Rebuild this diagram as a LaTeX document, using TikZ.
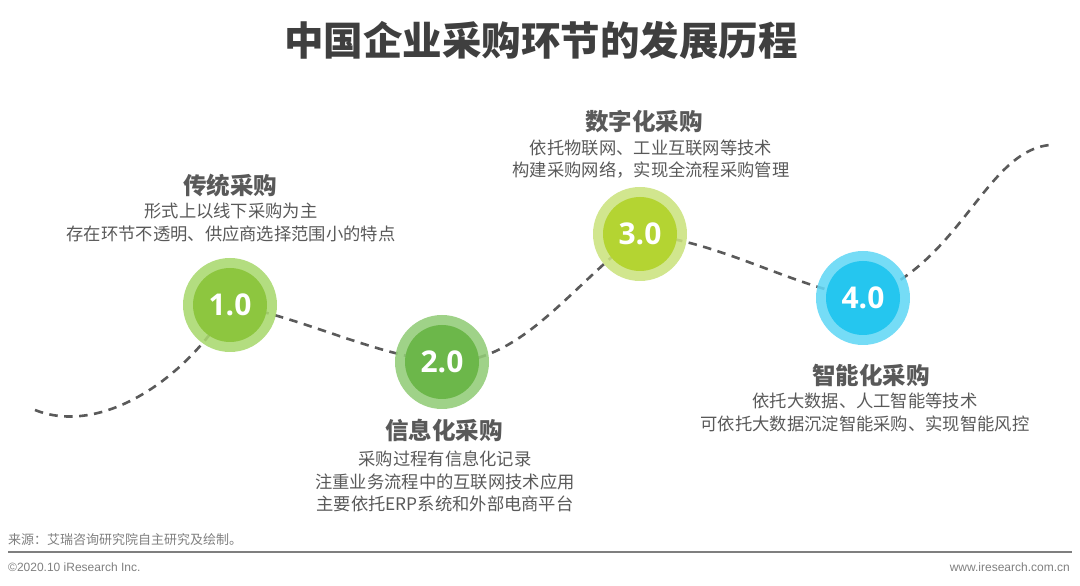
\documentclass[tikz,border=0pt]{standalone}
\usepackage{fontspec}
\setmainfont{Noto Sans CJK SC}
\newfontfamily\arialf{Liberation Sans}
\newfontfamily\numf{Open Sans}
\definecolor{txtdark}{HTML}{3F3F3F}
\definecolor{txtgray}{HTML}{595959}
\definecolor{footgray}{HTML}{7F7F7F}
\definecolor{dashgray}{HTML}{5A5A5A}
\definecolor{oA}{HTML}{A9D86E}\definecolor{iA}{HTML}{8DC63F}
\definecolor{oB}{HTML}{92CC77}\definecolor{iB}{HTML}{6CB74A}
\definecolor{oC}{HTML}{CBE27E}\definecolor{iC}{HTML}{B4D432}
\definecolor{oD}{HTML}{62D7F5}\definecolor{iD}{HTML}{25C6EF}
\tikzset{
  outerc/.style={circle, minimum size=94pt, inner sep=0pt, fill opacity=0.88},
  innerc/.style={circle, minimum size=74pt, inner sep=0pt, text=white, font=\numf\bfseries\fontsize{30}{30}\selectfont},
  dashcurve/.style={draw=dashgray, line width=2.6pt, dash pattern=on 8.5pt off 6.5pt},
  stagetitle/.style={font=\bfseries\fontsize{23.5}{26}\selectfont, text=txtgray, inner sep=0pt},
  stagebody/.style={font=\fontsize{17.3}{22.5}\selectfont, text=txtgray, align=center, inner sep=0pt},
}
\begin{document}
\begin{tikzpicture}[x=1pt,y=1pt]
\useasboundingbox (0,0) rectangle (1080,586);
% title
\node[font=\bfseries\fontsize{39.5}{42}\selectfont, text=txtdark, inner sep=0pt] (title) at (541,546) {中国企业采购环节的发展历程};
% circle positions
\coordinate (p1) at (230,281);
\coordinate (p2) at (442,224);
\coordinate (p3) at (640,352);
\coordinate (p4) at (863,288);
\coordinate (s) at (35,176);
\coordinate (e) at (1050,441);
% dashed curve
\draw[dashcurve] (s) .. controls (100,150) and (185,205) .. (p1)
  .. controls (300,270) and (370,232) .. (p2)
  .. controls (520,220) and (570,300) .. (p3)
  .. controls (720,345) and (790,300) .. (p4)
  .. controls (960,320) and (985,435) .. (e);
% circles
\node[outerc, fill=oA] (o1) at (p1) {};
\node[innerc, fill=iA] (c1) at (p1) {1.0};
\node[outerc, fill=oB] (o2) at (p2) {};
\node[innerc, fill=iB] (c2) at (p2) {2.0};
\node[outerc, fill=oC] (o3) at (p3) {};
\node[innerc, fill=iC] (c3) at (p3) {3.0};
\node[outerc, fill=oD] (o4) at (p4) {};
\node[innerc, fill=iD] (c4) at (p4) {4.0};
% texts
\node[stagetitle] (t1) at (230,400) {传统采购};
\node[stagebody] (b1) at (231,363.5) {形式上以线下采购为主\\存在环节不透明、供应商选择范围小的特点};
\node[stagetitle] (t2) at (444,156) {信息化采购};
\node[stagebody] (b2) at (445,104.5) {采购过程有信息化记录\\注重业务流程中的互联网技术应用\\主要依托ERP系统和外部电商平台};
\node[stagetitle] (t3) at (644,464) {数字化采购};
\node[stagebody] (b3) at (651,427) {依托物联网、工业互联网等技术\\构建采购网络，实现全流程采购管理};
\node[stagetitle] (t4) at (871,211) {智能化采购};
\node[stagebody] (b4) at (865,173.5) {依托大数据、人工智能等技术\\可依托大数据沉淀智能采购、实现智能风控};
% footer
\node[anchor=west, inner sep=0pt, text=footgray, font=\fontsize{13}{15}\selectfont] (src) at (8,46) {来源：艾瑞咨询研究院自主研究及绘制。};
\coordinate (l1) at (8,34);
\coordinate (l2) at (1072,34);
\draw[footgray, line width=1.2pt] (l1) -- (l2);
\node[anchor=west, inner sep=0pt, text=footgray, font=\arialf\fontsize{12}{14}\selectfont] (copy) at (8,19) {©2020.10 iResearch Inc.};
\node[anchor=east, inner sep=0pt, text=footgray, font=\arialf\fontsize{12}{14}\selectfont] (www) at (1070,19) {www.iresearch.com.cn};
\end{tikzpicture}
\end{document}
